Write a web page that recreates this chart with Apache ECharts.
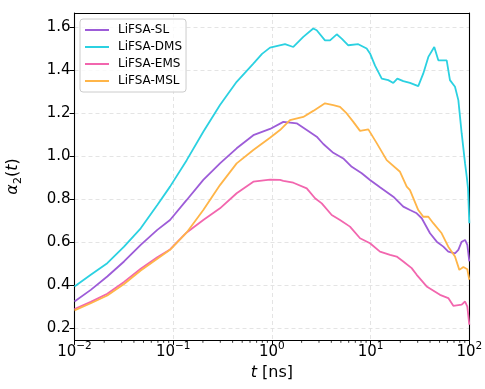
<!DOCTYPE html>
<html>
<head>
<meta charset="utf-8">
<script src="https://cdn.jsdelivr.net/npm/echarts@6/dist/echarts.min.js"></script>
<style>
  html, body { margin: 0; padding: 0; background: #fff; }
  #chart { width: 485px; height: 389px; }
</style>
</head>
<body>
<div id="chart"></div>
<script>
// Non-Gaussian parameter alpha_2(t) for four electrolytes.
// Times are stored as log10(t / ns); values are alpha_2.
const seriesNames = ['LiFSA-SL', 'LiFSA-DMS', 'LiFSA-EMS', 'LiFSA-MSL'];
const seriesColors = ['#9d5cd8', '#2bd1e1', '#f266ae', '#ffb548'];

const slLogT = [-2.000, -1.835, -1.668, -1.498, -1.329, -1.161, -1.032, -0.863, -0.695, -0.526, -0.357, -0.188, -0.019, 0.116, 0.251, 0.353, 0.454, 0.521, 0.622, 0.723, 0.809, 0.910, 0.994, 1.095, 1.230, 1.331, 1.399, 1.467, 1.518, 1.602, 1.670, 1.737, 1.787, 1.855, 1.889, 1.923, 1.957, 1.980, 2.000];
const slVal  = [0.324, 0.378, 0.440, 0.510, 0.587, 0.657, 0.703, 0.796, 0.889, 0.966, 1.036, 1.097, 1.126, 1.159, 1.152, 1.121, 1.090, 1.056, 1.015, 0.989, 0.950, 0.920, 0.889, 0.855, 0.811, 0.765, 0.749, 0.734, 0.711, 0.641, 0.602, 0.579, 0.556, 0.548, 0.564, 0.602, 0.610, 0.587, 0.510];

const dmsLogT = [-2.000, -1.835, -1.668, -1.498, -1.329, -1.161, -1.032, -0.863, -0.695, -0.526, -0.357, -0.188, -0.100, -0.019, 0.133, 0.217, 0.318, 0.419, 0.454, 0.538, 0.589, 0.657, 0.707, 0.774, 0.875, 0.960, 0.994, 1.045, 1.113, 1.179, 1.230, 1.271, 1.331, 1.399, 1.483, 1.534, 1.585, 1.645, 1.686, 1.771, 1.804, 1.855, 1.889, 1.923, 1.957, 1.974, 1.987, 2.000];
const dmsVal  = [0.394, 0.448, 0.502, 0.579, 0.664, 0.773, 0.858, 0.981, 1.113, 1.237, 1.345, 1.430, 1.475, 1.504, 1.520, 1.507, 1.554, 1.593, 1.585, 1.538, 1.538, 1.566, 1.546, 1.515, 1.520, 1.500, 1.477, 1.420, 1.360, 1.353, 1.340, 1.360, 1.348, 1.340, 1.325, 1.384, 1.461, 1.507, 1.445, 1.445, 1.353, 1.322, 1.260, 1.105, 0.966, 0.904, 0.850, 0.688];

const emsLogT = [-2.000, -1.835, -1.668, -1.498, -1.329, -1.161, -1.032, -0.863, -0.695, -0.526, -0.357, -0.188, -0.019, 0.082, 0.116, 0.217, 0.353, 0.437, 0.505, 0.606, 0.690, 0.791, 0.893, 0.994, 1.095, 1.197, 1.264, 1.331, 1.416, 1.467, 1.568, 1.703, 1.787, 1.838, 1.923, 1.957, 1.980, 2.000];
const emsVal  = [0.289, 0.322, 0.360, 0.415, 0.476, 0.530, 0.566, 0.645, 0.703, 0.757, 0.827, 0.881, 0.890, 0.889, 0.885, 0.876, 0.850, 0.804, 0.780, 0.726, 0.703, 0.672, 0.618, 0.595, 0.556, 0.541, 0.533, 0.510, 0.479, 0.448, 0.394, 0.355, 0.340, 0.304, 0.309, 0.324, 0.300, 0.216];

const mslLogT = [-2.000, -1.835, -1.668, -1.498, -1.329, -1.161, -1.032, -0.863, -0.695, -0.526, -0.357, -0.188, -0.019, 0.082, 0.183, 0.318, 0.419, 0.538, 0.622, 0.690, 0.758, 0.825, 0.893, 0.977, 0.994, 1.062, 1.163, 1.298, 1.366, 1.399, 1.483, 1.534, 1.585, 1.635, 1.720, 1.787, 1.855, 1.899, 1.940, 1.980, 2.000];
const mslVal  = [0.283, 0.316, 0.352, 0.405, 0.468, 0.523, 0.564, 0.645, 0.749, 0.865, 0.966, 1.028, 1.085, 1.121, 1.167, 1.182, 1.210, 1.245, 1.237, 1.229, 1.198, 1.159, 1.117, 1.124, 1.118, 1.060, 0.981, 0.927, 0.858, 0.842, 0.749, 0.718, 0.718, 0.688, 0.641, 0.579, 0.533, 0.471, 0.484, 0.474, 0.425];

const yTicks = [0.2, 0.4, 0.6, 0.8, 1.0, 1.2, 1.4, 1.6];
const xMinorTicks = [];
[0.01, 0.1, 1, 10].forEach(function (d) {
  for (let k = 2; k <= 9; k++) xMinorTicks.push(k * d);
});

const Y_MIN = 0.145, Y_MAX = 1.665;
const FONT = 'DejaVu Sans';

function pairs(logT, vals) {
  return logT.map(function (e, i) { return [Math.pow(10, e), vals[i]]; });
}
const lineData = [pairs(slLogT, slVal), pairs(dmsLogT, dmsVal), pairs(emsLogT, emsVal), pairs(mslLogT, mslVal)];

const chart = echarts.init(document.getElementById('chart'), null, { renderer: 'canvas' });

const series = lineData.map(function (d, i) {
  return {
    name: seriesNames[i],
    type: 'line',
    data: d,
    symbol: 'none',
    smooth: false,
    lineStyle: { color: seriesColors[i], width: 1.8 },
    itemStyle: { color: seriesColors[i] },
    z: 3 + i
  };
});

// Logarithmic minor ticks under the x axis
series.push({
  type: 'custom',
  silent: true,
  clip: false,
  z: 10,
  data: xMinorTicks.map(function (t) { return [t, Y_MIN]; }),
  encode: { x: 0, y: 1 },
  renderItem: function (params, api) {
    const p = api.coord([api.value(0), api.value(1)]);
    return {
      type: 'line',
      shape: { x1: p[0], y1: p[1], x2: p[0], y2: p[1] + 2.8 },
      style: { stroke: '#000', lineWidth: 0.8 }
    };
  }
});

const frameLine = { show: true, onZero: false, lineStyle: { color: '#000', width: 1.1 } };

chart.setOption({
  animation: false,
  backgroundColor: '#fff',
  textStyle: { fontFamily: FONT },
  grid: { left: 74.5, right: 15.7, top: 13, bottom: 49, containLabel: false, outerBoundsMode: 'none' },
  legend: {
    data: seriesNames,
    orient: 'vertical',
    left: 80, top: 19,
    icon: 'rect',
    itemWidth: 24, itemHeight: 2, itemGap: 3,
    padding: [4, 4, 4, 5],
    backgroundColor: 'rgba(255,255,255,0.8)',
    borderColor: '#cccccc', borderWidth: 1, borderRadius: 3,
    textStyle: { fontFamily: FONT, fontSize: 12, lineHeight: 14, color: '#000', padding: [0, 0, 0, 4] }
  },
  xAxis: [{
    type: 'log', logBase: 10, min: 0.01, max: 100, splitNumber: 4,
    name: '{i|t} [ns]',
    nameLocation: 'middle', nameGap: 17,
    nameTextStyle: {
      fontFamily: FONT, fontSize: 16, color: '#000',
      rich: { i: { fontFamily: FONT, fontSize: 16, fontStyle: 'italic', color: '#000' } }
    },
    axisLine: frameLine,
    axisTick: { show: true, length: 4.9, lineStyle: { color: '#000', width: 1 } },
    axisLabel: {
      margin: 1,
      formatter: function (v) {
        const e = Math.round(Math.log10(v));
        const s = String(e).replace('-', '\u2212');
        return '{b|10}{s|' + s + '}';
      },
      rich: {
        b: { fontFamily: FONT, fontSize: 15, color: '#000', lineHeight: 19, verticalAlign: 'bottom' },
        s: { fontFamily: FONT, fontSize: 10.5, color: '#000', lineHeight: 19, verticalAlign: 'top' }
      }
    },
    splitLine: { show: true, lineStyle: { color: '#dddddd', width: 0.8, type: [4, 3] } }
  }, {
    // top frame edge
    type: 'log', logBase: 10, min: 0.01, max: 100, position: 'top',
    axisLine: frameLine, axisTick: { show: false }, axisLabel: { show: false }, splitLine: { show: false }
  }],
  yAxis: [{
    type: 'value', min: Y_MIN, max: Y_MAX,
    name: '{i|\u03b1}{sub|2}{n|(}{i|t}{n|)}',
    nameLocation: 'middle', nameGap: 54, nameRotate: 90,
    nameTextStyle: {
      fontFamily: FONT, fontSize: 16, color: '#000',
      rich: {
        i: { fontFamily: FONT, fontSize: 16, fontStyle: 'italic', color: '#000', lineHeight: 22, verticalAlign: 'bottom' },
        n: { fontFamily: FONT, fontSize: 16, color: '#000', lineHeight: 22, verticalAlign: 'bottom' },
        sub: { fontFamily: FONT, fontSize: 11, color: '#000', lineHeight: 22, verticalAlign: 'bottom', padding: [0, 0, -3, 0] }
      }
    },
    axisLine: frameLine,
    axisTick: { show: true, length: 4.9, customValues: yTicks, lineStyle: { color: '#000', width: 1 } },
    axisLabel: {
      customValues: yTicks, margin: 4,
      fontFamily: FONT, fontSize: 15, color: '#000',
      formatter: function (v) { return v.toFixed(1); }
    },
    splitLine: { show: true, lineStyle: { color: '#dddddd', width: 0.8, type: [4, 3] } }
  }, {
    // right frame edge
    type: 'value', min: Y_MIN, max: Y_MAX, position: 'right',
    axisLine: frameLine, axisTick: { show: false }, axisLabel: { show: false }, splitLine: { show: false }
  }],
  series: series
});
</script>
</body>
</html>
